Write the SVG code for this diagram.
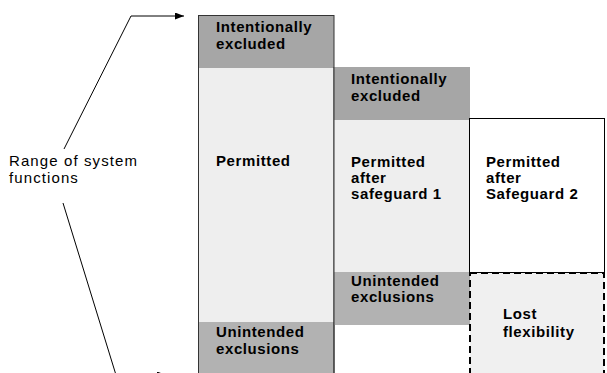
<svg xmlns="http://www.w3.org/2000/svg" width="607" height="373" viewBox="0 0 607 373">
<style>
text{font-family:"Liberation Sans",Arial,sans-serif;font-size:15px;letter-spacing:1.1px;fill:#000}
.b{font-weight:bold;letter-spacing:0.6px}
.ex{fill:#a6a6a6}
.un{fill:#b2b2b2}
.pm{fill:#eeeeee}
.ln{fill:none;stroke:#000;stroke-width:1}
</style>
<defs>
<marker id="ah" markerWidth="9" markerHeight="7" refX="9" refY="3.5" orient="auto" markerUnits="userSpaceOnUse">
<path d="M0,0 L9,3.5 L0,7 Z" fill="#000"/>
</marker>
</defs>
<g id="connectors">
<path class="ln" d="M64,149 L131,16 L184,16" marker-end="url(#ah)"/>
<path class="ln" d="M63,203 L116,375 L166,375" marker-end="url(#ah)"/>
</g>
<g id="label-range">
<text x="9" y="166">Range of system</text>
<text x="9" y="183">functions</text>
</g>
<g id="col1">
<rect class="ex" x="198" y="15" width="136" height="53"/>
<rect class="pm" x="198" y="68" width="136" height="254"/>
<rect class="un" x="198" y="322" width="136" height="55"/>
<rect x="198.5" y="15.5" width="135.5" height="362" fill="none" stroke="#333" stroke-width="1"/>
<text class="b" x="216" y="32">Intentionally</text>
<text class="b" x="216" y="49">excluded</text>
<text class="b" x="216" y="166">Permitted</text>
<text class="b" x="216" y="337">Unintended</text>
<text class="b" x="216" y="354">exclusions</text>
</g>
<g id="col2">
<rect class="ex" x="334" y="67" width="136" height="53"/>
<rect class="pm" x="334" y="120" width="136" height="152"/>
<rect class="un" x="334" y="272" width="136" height="53"/>
<line x1="334" y1="67" x2="334" y2="373" stroke="#333" stroke-width="1"/>
<text class="b" x="351" y="84">Intentionally</text>
<text class="b" x="351" y="101">excluded</text>
<text class="b" x="351" y="167">Permitted</text>
<text class="b" x="351" y="183">after</text>
<text class="b" x="351" y="199">safeguard 1</text>
<text class="b" x="351" y="286">Unintended</text>
<text class="b" x="351" y="302">exclusions</text>
</g>
<g id="col3">
<rect x="469.5" y="118.5" width="135" height="154" fill="#fff" stroke="#000" stroke-width="1"/>
<text class="b" x="486" y="167">Permitted</text>
<text class="b" x="486" y="183">after</text>
<text class="b" x="486" y="199">Safeguard 2</text>
</g>
<g id="lost">
<rect x="470" y="273" width="134" height="104" fill="#f0f0f0" stroke="#000" stroke-width="2" stroke-dasharray="7,4"/>
<text class="b" x="503" y="319">Lost</text>
<text class="b" x="503" y="337">flexibility</text>
</g>
</svg>
